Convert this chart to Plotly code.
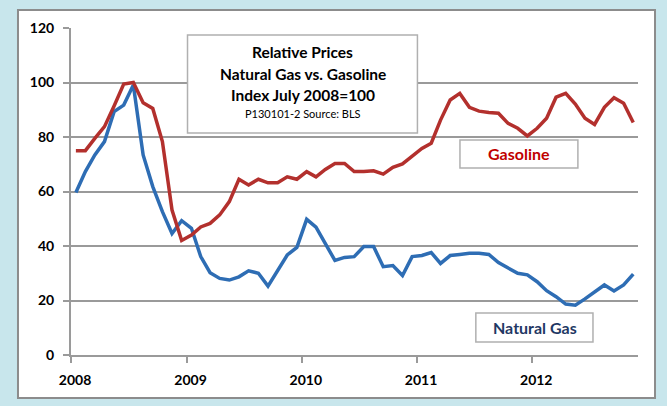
import pandas as pd
import plotly.graph_objects as go

# monthly index, July 2008 = 100 (Jan 2008 .. Nov 2012)
months = pd.date_range("2008-01-01", periods=59, freq="MS")
gasoline = [75, 75, 79.5, 83.8, 91.4, 99.4, 100, 92.6, 90.5, 78.3, 53.2, 42,
            44, 47, 48.3, 51.4, 56.3, 64.5, 62.4, 64.5, 63.2, 63.2, 65.4, 64.5,
            67.3, 65.4, 68.1, 70.3, 70.3, 67.3, 67.3, 67.6, 66.4, 68.9, 70.1, 73,
            75.8, 77.7, 86.2, 93.6, 96, 90.9, 89.5, 89, 88.7, 85, 83.2, 80.4,
            83.2, 86.9, 94.6, 96, 92.1, 86.9, 84.6, 90.9, 94.4, 92.4, 85.3]
natural_gas = [59.6, 67.3, 73.4, 78.3, 89.3, 91.7, 99.1, 73.4, 61.8, 52.6, 44.6, 49.3,
               46.5, 36.1, 30.2, 28.1, 27.5, 28.7, 30.9, 30, 25.3, 31.2, 36.7, 39.5,
               49.8, 46.9, 41, 34.7, 35.8, 36.1, 39.8, 39.8, 32.4, 32.8, 29.2, 36.1,
               36.5, 37.6, 33.6, 36.5, 36.9, 37.3, 37.3, 36.9, 33.9, 31.8, 30, 29.4,
               26.9, 23.6, 21.4, 18.7, 18.3, 20.6, 23.2, 25.7, 23.5, 25.7, 29.7]
years = ["2008", "2009", "2010", "2011", "2012"]
title_lines = ["Relative Prices", "Natural Gas vs. Gasoline", "Index July 2008=100"]
source_note = "P130101-2 Source: BLS"

RED = "#B3302D"
BLUE = "#2E6DB4"
GRID = "#9A9A9A"
FONT = "Lato"

fig = go.Figure()
fig.add_trace(go.Scatter(x=months, y=natural_gas, mode="lines", name="Natural Gas",
                         xperiod="M1", xperiodalignment="middle",
                         line=dict(color=BLUE, width=3.5)))
fig.add_trace(go.Scatter(x=months, y=gasoline, mode="lines", name="Gasoline",
                         xperiod="M1", xperiodalignment="middle",
                         line=dict(color=RED, width=3.5)))

# white chart frame on the light blue page
fig.add_shape(type="rect", xref="paper", yref="paper", x0=-0.0935, x1=1.030,
              y0=-0.1315, y1=1.055, layer="below",
              fillcolor="white", line=dict(color="#8C8C8C", width=2))

# title box
fig.add_shape(type="rect", xref="paper", yref="paper", x0=0.2055, x1=0.611,
              y0=0.679, y1=0.9786, layer="above",
              fillcolor="white", line=dict(color="#B0B0B0", width=1.5))
for txt, yy in zip(title_lines, [0.926, 0.860, 0.796]):
    fig.add_annotation(text="<b>%s</b>" % txt, xref="paper", yref="paper",
                       x=0.4083, y=yy, xanchor="center", yanchor="middle",
                       showarrow=False,
                       font=dict(family=FONT, size=15.5, color="black"))
fig.add_annotation(text=source_note, xref="paper", yref="paper",
                   x=0.4083, y=0.738, xanchor="center", yanchor="middle",
                   showarrow=False,
                   font=dict(family=FONT, size=11, color="black"))

# series labels
fig.add_shape(type="rect", xref="paper", yref="paper", x0=0.686, x1=0.894,
              y0=0.572, y1=0.6575, layer="above",
              fillcolor="white", line=dict(color="#B0B0B0", width=1.5))
fig.add_annotation(text="<b>Gasoline</b>", xref="paper", yref="paper",
                   x=0.790, y=0.6147, xanchor="center", yanchor="middle",
                   showarrow=False,
                   font=dict(family=FONT, size=16, color="#C00000"))
fig.add_shape(type="rect", xref="paper", yref="paper", x0=0.714, x1=0.9206,
              y0=0.0398, y1=0.1284, layer="above",
              fillcolor="white", line=dict(color="#B0B0B0", width=1.5))
fig.add_annotation(text="<b>Natural Gas</b>", xref="paper", yref="paper",
                   x=0.8175, y=0.0841, xanchor="center", yanchor="middle",
                   showarrow=False,
                   font=dict(family=FONT, size=16, color="#1F3864"))

fig.update_layout(
    width=667, height=406,
    margin=dict(l=71, r=29, t=28, b=51),
    paper_bgcolor="#C8E6EC",
    plot_bgcolor="white",
    showlegend=False,
    font=dict(family=FONT, size=14, color="black"),
)
fig.update_xaxes(
    range=["2008-01-01", "2012-12-01"],
    tickvals=["%s-01-01" % y for y in years], ticktext=["<b>%s</b>" % y for y in years],
    ticks="outside", ticklen=6, tickcolor=GRID, tickwidth=1.5,
    ticklabelstandoff=5, ticklabelshift=4,
    showgrid=False, showline=True, linecolor=GRID, linewidth=1.5,
    tickfont=dict(family=FONT, size=14),
)
fig.update_yaxes(
    range=[0, 120], tickvals=[0, 20, 40, 60, 80, 100, 120],
    ticktext=["<b>%d</b>" % v for v in [0, 20, 40, 60, 80, 100, 120]],
    ticks="outside", ticklen=6, tickcolor=GRID, tickwidth=1.5,
    ticklabelstandoff=6,
    showgrid=True, gridcolor=GRID, gridwidth=1.5,
    showline=True, linecolor=GRID, linewidth=2, zeroline=False,
    tickfont=dict(family=FONT, size=14),
)

fig.write_html("out.html", config={"displayModeBar": False},
               post_script="document.body.style.margin='0';")
